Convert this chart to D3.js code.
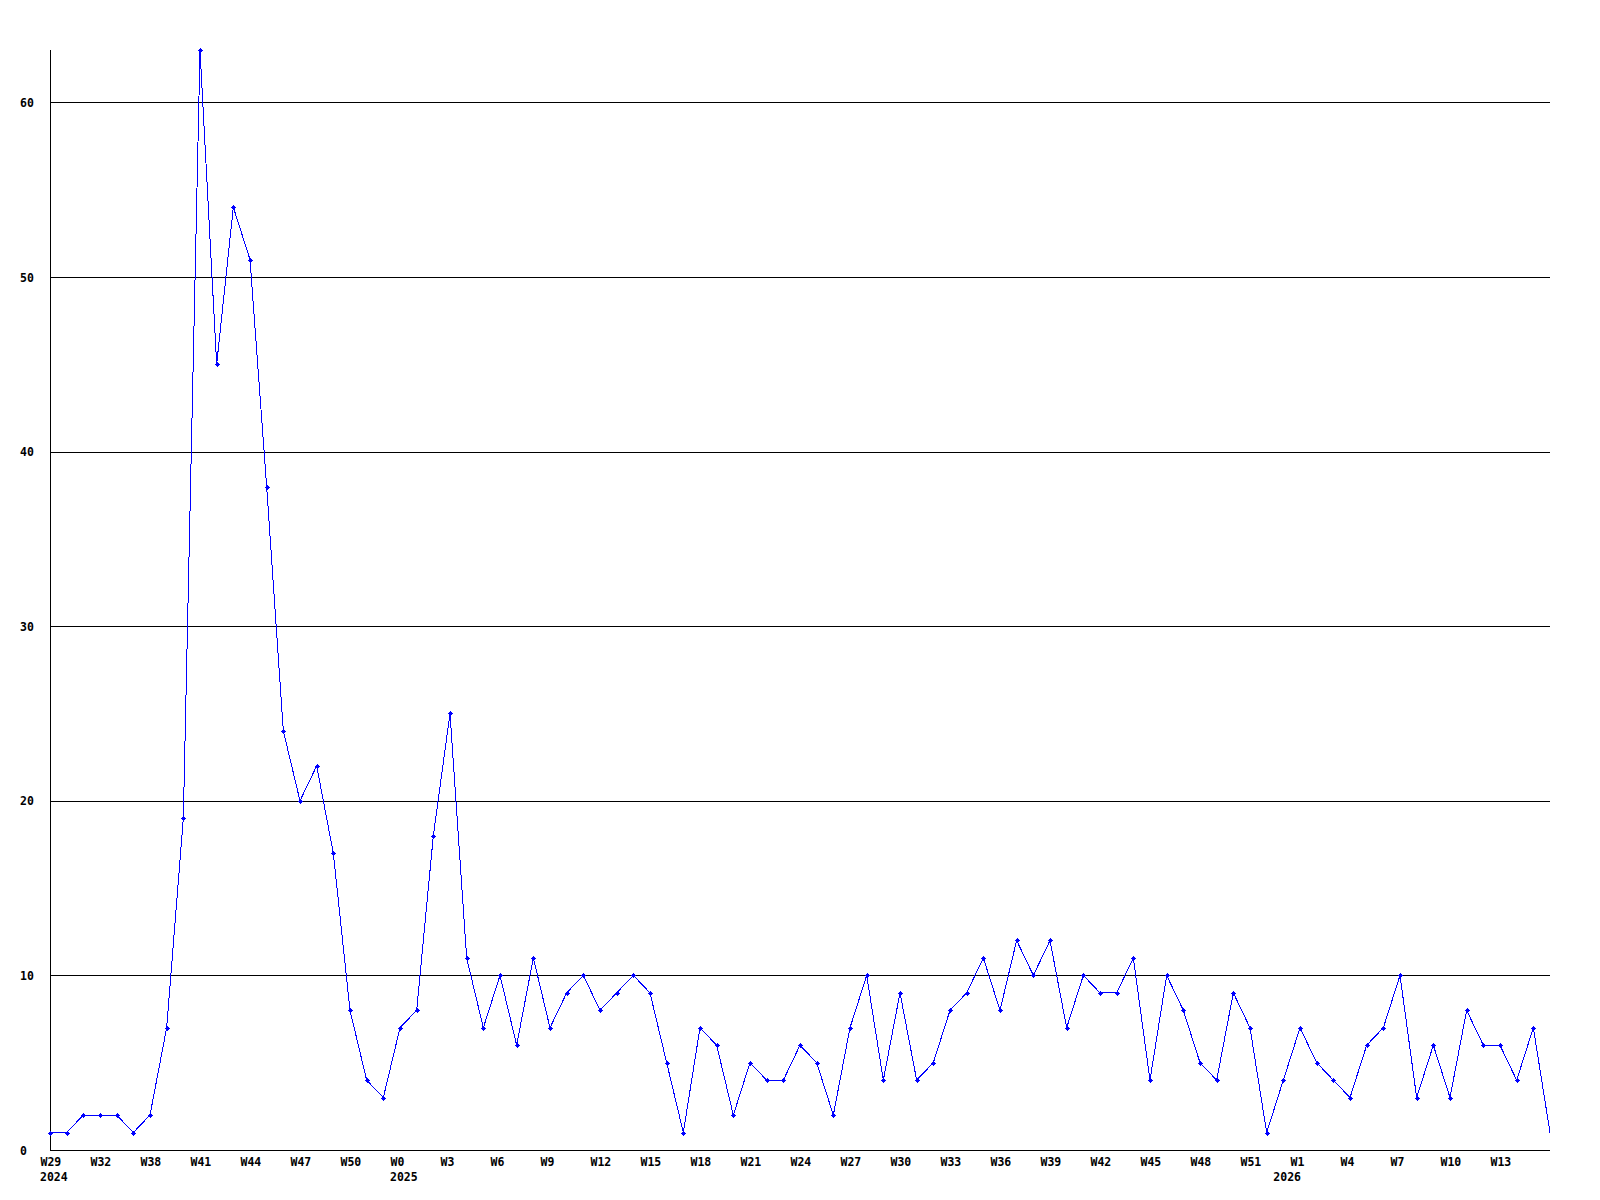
<!DOCTYPE html>
<html>
<head>
<meta charset="utf-8">
<script src="https://cdn.jsdelivr.net/npm/d3@7"></script>
<style>
  body { margin: 0; background: #fff; }
  text { font-family: "DejaVu Sans Mono", monospace; font-weight: bold; font-size: 11.5px; fill: #000; }
</style>
</head>
<body>
<div id="chart"></div>
<script>
// week numbers, one per point
const weeks = [
  29, 30, 31, 32, 36, 37, 38, 39, 40, 41, 42, 43, 44, 45, 46, 47, 48, 49, 50, 51, 52,
  0, 1, 2, 3, 4, 5, 6, 7, 8, 9, 10, 11, 12, 13, 14, 15, 16, 17, 18, 19, 20, 21, 22, 23, 24, 25, 26,
  27, 28, 29, 30, 31, 32, 33, 34, 35, 36, 37, 38, 39, 40, 41, 42, 43, 44, 45, 46, 47, 48, 49, 50, 51, 52,
  0, 1, 2, 3, 4, 5, 6, 7, 8, 9, 10, 11, 12, 13, 14, 15, 16
];
// year of each point
const years = [
  2024, 2024, 2024, 2024, 2024, 2024, 2024, 2024, 2024, 2024, 2024, 2024, 2024, 2024, 2024, 2024, 2024, 2024, 2024, 2024, 2024,
  2025, 2025, 2025, 2025, 2025, 2025, 2025, 2025, 2025, 2025, 2025, 2025, 2025, 2025, 2025, 2025, 2025, 2025, 2025, 2025, 2025, 2025, 2025, 2025, 2025, 2025, 2025,
  2025, 2025, 2025, 2025, 2025, 2025, 2025, 2025, 2025, 2025, 2025, 2025, 2025, 2025, 2025, 2025, 2025, 2025, 2025, 2025, 2025, 2025, 2025, 2025, 2025, 2025,
  2026, 2026, 2026, 2026, 2026, 2026, 2026, 2026, 2026, 2026, 2026, 2026, 2026, 2026, 2026, 2026, 2026
];
// counts per week
const counts = [
  1, 1, 2, 2, 2, 1, 2, 7, 19, 63, 45, 54, 51, 38, 24, 20, 22, 17, 8, 4, 3,
  7, 8, 18, 25, 11, 7, 10, 6, 11, 7, 9, 10, 8, 9, 10, 9, 5, 1, 7, 6, 2, 5, 4, 4, 6, 5,
  2, 7, 10, 4, 9, 4, 5, 8, 9, 11, 8, 12, 10, 12, 7, 10, 9, 9, 11, 4, 10, 8, 5, 4, 9, 7, 1,
  4, 7, 5, 4, 3, 6, 7, 10, 3, 6, 3, 8, 6, 6, 4, 7, 1
];
const yTicks = [0, 10, 20, 30, 40, 50, 60];
const yMax = 63;

const W = 1600, H = 1200;
const m = { left: 50, right: 1550, top: 50, bottom: 1150 };

const svg = d3.select('#chart').append('svg').attr('width', W).attr('height', H);

const idx = d3.range(counts.length);
const last = counts.length - 1;
const x = d3.scalePoint().domain(idx).range([m.left, m.right]);
const y = d3.scaleLinear().domain([0, yMax]).range([m.bottom, m.top]);

// horizontal grid + y labels
const yAxis = d3.axisLeft(y).tickValues(yTicks).tickSize(-(m.right - m.left)).tickFormat(d3.format('d'));
const gy = svg.append('g').attr('transform', `translate(${m.left},0)`).call(yAxis);
gy.select('.domain').remove();
gy.selectAll('line').attr('stroke', '#000').attr('shape-rendering', 'crispEdges');
gy.selectAll('text').attr('x', 20 - m.left).attr('text-anchor', 'start').attr('dy', '0.35em');

// left axis
svg.append('line').attr('x1', m.left).attr('x2', m.left).attr('y1', m.top).attr('y2', m.bottom)
  .attr('stroke', '#000').attr('shape-rendering', 'crispEdges');

// week labels every third point (none on the closing edge)
const xAxis = d3.axisBottom(x).tickValues(idx.filter(i => i % 3 === 0 && i < last))
  .tickSize(0).tickFormat(i => 'W' + weeks[i]);
const gx = svg.append('g').attr('transform', `translate(0,${m.bottom})`).call(xAxis);
gx.select('.domain').remove();
gx.selectAll('text').attr('text-anchor', 'start').attr('x', -10).attr('y', 16).attr('dy', 0);

// year labels at the first week of each year
const yearStarts = idx.filter(i => i === 0 || years[i] !== years[i - 1]);
svg.selectAll('.year').data(yearStarts).enter().append('text')
  .attr('class', 'year')
  .attr('x', i => x(i) - 10)
  .attr('y', m.bottom + 31)
  .text(i => years[i]);

// the line
const line = d3.line().x(i => x(i)).y(i => y(counts[i]));
svg.append('path').datum(idx).attr('d', line)
  .attr('fill', 'none').attr('stroke', '#0000ff').attr('stroke-width', 1)
  .attr('shape-rendering', 'crispEdges');

// point markers (the last one sits on the edge and is not drawn)
const marker = 'M-2.5,-0.5h5v1h-5z M-0.5,-2.5h1v5h-1z M-1.5,-1.5h3v3h-3z';
svg.selectAll('.pt').data(idx.slice(0, -1)).enter().append('path')
  .attr('class', 'pt')
  .attr('d', marker)
  .attr('transform', i => `translate(${Math.round(x(i)) + 0.5},${Math.round(y(counts[i])) + 0.5})`)
  .attr('fill', '#0000ff')
  .attr('shape-rendering', 'crispEdges');
</script>
</body>
</html>
